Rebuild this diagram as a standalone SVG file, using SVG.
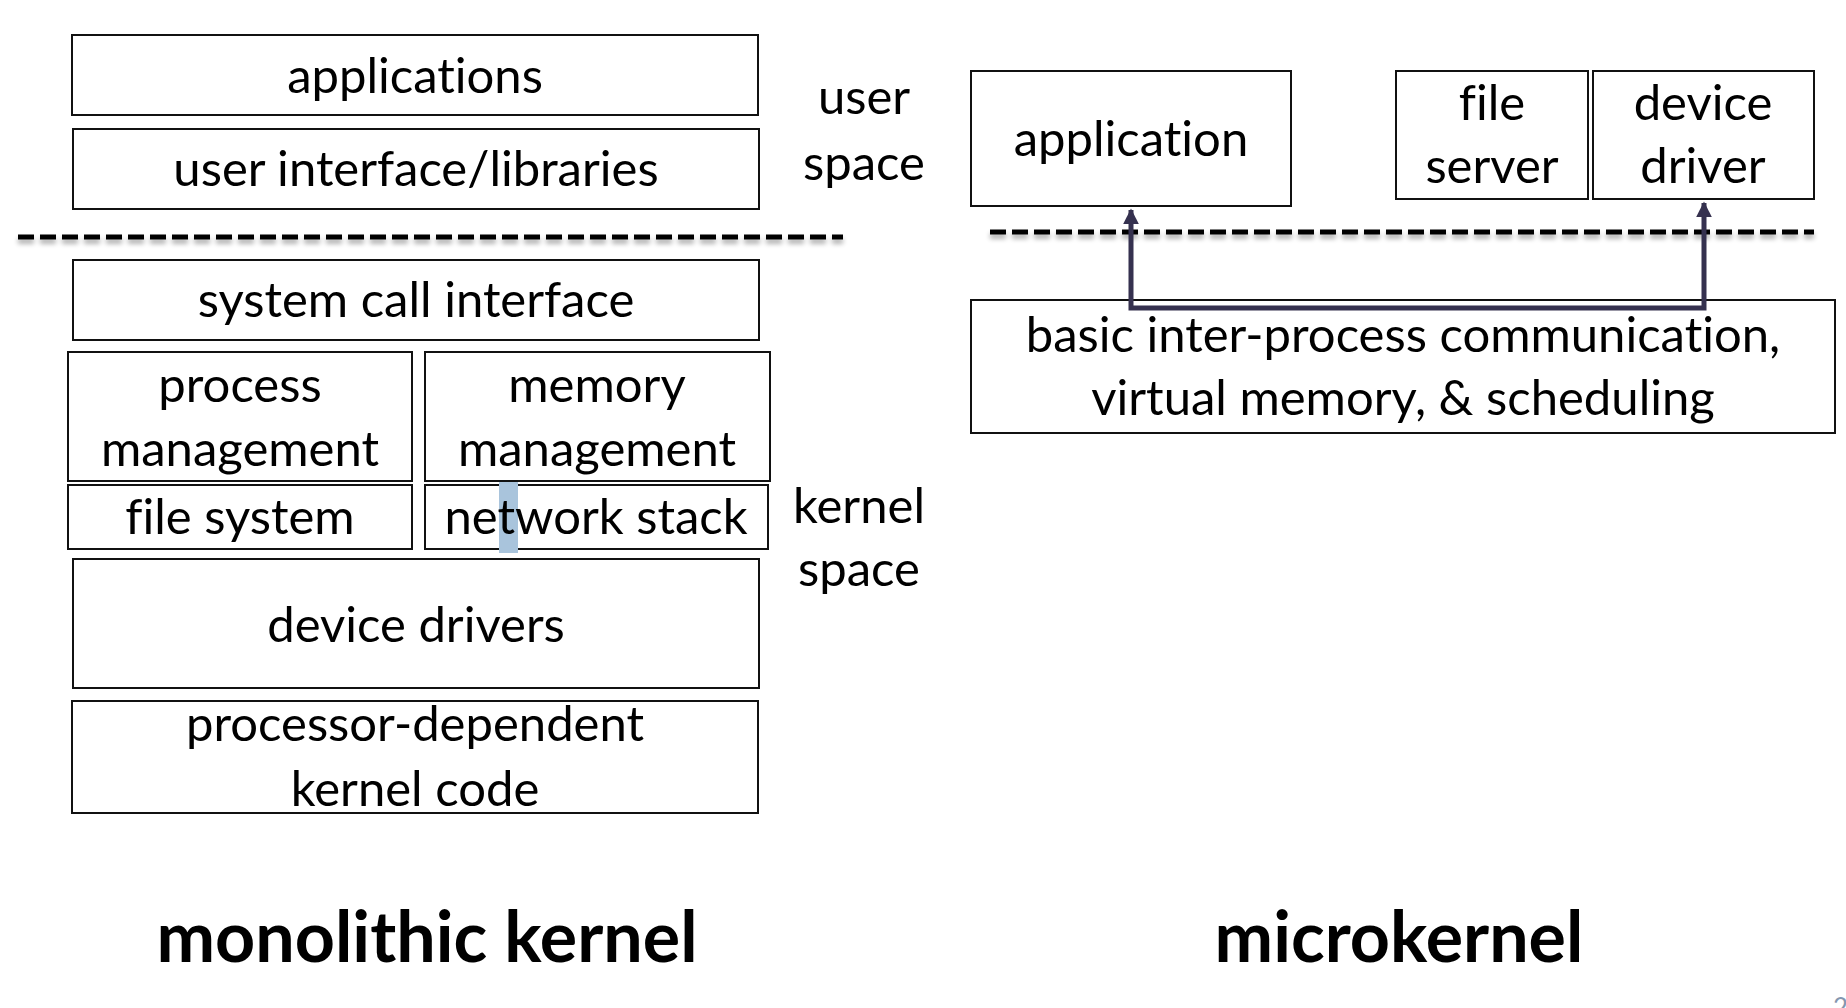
<svg xmlns="http://www.w3.org/2000/svg" width="1846" height="1008" viewBox="0 0 1846 1008">
<style>
.box{fill:#fff;stroke:#111;stroke-width:2}
.t{font-family:Lato,"Liberation Sans",sans-serif;font-size:49px;fill:#000;text-anchor:middle;font-variant-ligatures:none}
.title{font-family:Lato,"Liberation Sans",sans-serif;font-size:70px;font-weight:700;fill:#000;text-anchor:middle;font-variant-ligatures:none}
.dash{stroke:#000;stroke-width:5;stroke-dasharray:16 6;fill:none}
.conn{stroke:#35314f;stroke-width:5;fill:none}
</style>
<defs>
<filter id="sh" filterUnits="userSpaceOnUse" x="0" y="0" width="1846" height="1008">
<feGaussianBlur in="SourceAlpha" stdDeviation="2.5"/>
<feOffset dy="4" result="b"/>
<feComponentTransfer><feFuncA type="linear" slope="0.35"/></feComponentTransfer>
<feMerge><feMergeNode/><feMergeNode in="SourceGraphic"/></feMerge>
</filter>
<marker id="ah" viewBox="0 0 10 10" refX="9" refY="5" markerWidth="3.2" markerHeight="3.2" orient="auto-start-reverse" markerUnits="strokeWidth">
<path d="M0,0 L10,5 L0,10 z" fill="#35314f"/>
</marker>
</defs>
<rect width="1846" height="1008" fill="#fff"/>

<!-- monolithic kernel -->
<g id="applications"><rect class="box" x="72" y="35" width="686" height="80"/><text class="t" x="415" y="93">applications</text></g>
<g id="user-interface"><rect class="box" x="73" y="129" width="686" height="80"/><text class="t" x="416" y="186">user interface/libraries</text></g>
<g id="user-space-label"><text class="t" x="864" y="114">user</text><text class="t" x="864" y="180">space</text></g>
<g id="syscall"><rect class="box" x="73" y="260" width="686" height="80"/><text class="t" x="416" y="317">system call interface</text></g>
<g id="process-mgmt"><rect class="box" x="68" y="352" width="344" height="129"/><text class="t" x="240" y="402">process</text><text class="t" x="240" y="466">management</text></g>
<g id="memory-mgmt"><rect class="box" x="425" y="352" width="345" height="129"/><text class="t" x="597" y="402">memory</text><text class="t" x="597" y="466">management</text></g>
<g id="file-system"><rect class="box" x="68" y="485" width="344" height="64"/><text class="t" x="240" y="534">file system</text></g>
<g id="network-stack"><rect class="box" x="425" y="485" width="343" height="64"/><rect x="499" y="482" width="19" height="71" fill="#a9c4dc"/><text class="t" x="596" y="534">network stack</text></g>
<g id="kernel-space-label"><text class="t" x="859" y="523">kernel</text><text class="t" x="859" y="586">space</text></g>
<g id="device-drivers"><rect class="box" x="73" y="559" width="686" height="129"/><text class="t" x="416" y="642">device drivers</text></g>
<g id="processor-code"><rect class="box" x="72" y="701" width="686" height="112"/><text class="t" x="415" y="741">processor-dependent</text><text class="t" x="415" y="806">kernel code</text></g>
<g id="title-monolithic"><text class="title" x="427" y="962">monolithic kernel</text></g>

<!-- microkernel -->
<g id="application"><rect class="box" x="971" y="71" width="320" height="135"/><text class="t" x="1131" y="156">application</text></g>
<g id="file-server"><rect class="box" x="1396" y="71" width="192" height="128"/><text class="t" x="1492" y="120">file</text><text class="t" x="1492" y="183">server</text></g>
<g id="device-driver"><rect class="box" x="1593" y="71" width="221" height="128"/><text class="t" x="1703" y="120">device</text><text class="t" x="1703" y="183">driver</text></g>
<g id="ipc"><rect class="box" x="971" y="300" width="864" height="133"/><text class="t" x="1403" y="352">basic inter-process communication,</text><text class="t" x="1403" y="415">virtual memory, &amp; scheduling</text></g>
<g id="title-micro"><text class="title" x="1399" y="962">microkernel</text></g>

<g id="connectors">
<line class="dash" x1="18" y1="237" x2="843" y2="237" filter="url(#sh)"/>
<line class="dash" x1="990" y1="232" x2="1814" y2="232" filter="url(#sh)"/>
<path class="conn" d="M1131,210 L1131,308 L1704,308 L1704,203" marker-start="url(#ah)" marker-end="url(#ah)"/>
</g>
<text x="1833" y="1017" style="font-family:Lato,'Liberation Sans',sans-serif;font-size:26px;fill:#8497b0">2</text>
</svg>
